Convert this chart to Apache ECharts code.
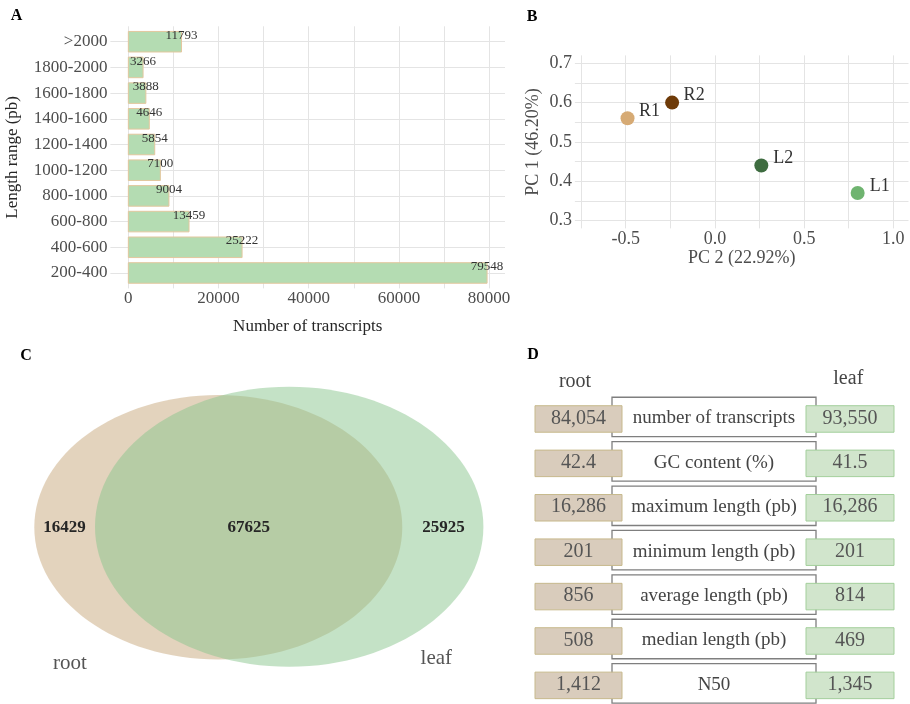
<!DOCTYPE html>
<html>
<head>
<meta charset="utf-8">
<style>
  html, body { margin: 0; padding: 0; background: #ffffff; }
  #chart { width: 910px; height: 704px; }
</style>
<script src="https://cdn.jsdelivr.net/npm/echarts@6.0.0/dist/echarts.min.js"></script>
</head>
<body>
<div id="chart"></div>
<script>
// ---------------- DATA ----------------
// Panel A
const lengthCategories = ['>2000', '1800-2000', '1600-1800', '1400-1600', '1200-1400', '1000-1200', '800-1000', '600-800', '400-600', '200-400'];
const transcriptCounts = [11793, 3266, 3888, 4646, 5854, 7100, 9004, 13459, 25222, 79548];
const countTicks = [0, 20000, 40000, 60000, 80000];
const countGrid = [0, 10000, 20000, 30000, 40000, 50000, 60000, 70000, 80000];

// Panel B
const sampleNames = ['R1', 'R2', 'L2', 'L1'];
const pc2Values = [-0.49, -0.24, 0.26, 0.80];
const pc1Values = [0.56, 0.60, 0.44, 0.37];
const sampleColors = ['#d6aa74', '#6e3a08', '#3e6c40', '#6fb470'];
const pc2Ticks = [-0.5, 0.0, 0.5, 1.0];
const pc2Grid = [-0.75, -0.5, -0.25, 0.0, 0.25, 0.5, 0.75, 1.0];
const pc1Ticks = [0.3, 0.4, 0.5, 0.6, 0.7];
const pc1Grid = [0.3, 0.35, 0.4, 0.45, 0.5, 0.55, 0.6, 0.65, 0.7];

// Panel C
const vennSets = ['root', 'leaf'];
const vennCounts = [16429, 67625, 25925]; // root only, shared, leaf only

// Panel D
const metricNames = ['number of transcripts', 'GC content (%)', 'maximum length (pb)', 'minimum length (pb)', 'average length (pb)', 'median length (pb)', 'N50'];
const rootValues = [84054, 42.4, 16286, 201, 856, 508, 1412];
const leafValues = [93550, 41.5, 16286, 201, 814, 469, 1345];

// ---------------- STYLE / LAYOUT ----------------
const SERIF = '"Liberation Serif", "Times New Roman", serif';
const gridColor = '#e4e4e4';
const tickColor = '#4d4d4d';
const titleColor = '#262626';

// Venn layout (axis units of the hidden Venn grid)
const vennShapes = [
  { cx: 218.3, cy: 187.2, rx: 184, ry: 132.2, color: '#c8a87c' },
  { cx: 289.2, cy: 186.7, rx: 194.2, ry: 140, color: '#89c58d' }
];
const vennCountPos = [[64.5, 187.5], [248.8, 187.5], [443.5, 187.5]];
const vennNamePos = [[70, 323], [436.3, 318]];

// Table layout (axis units of the hidden table grid)
const colRoot = [5, 92], colMid = [82, 286], colLeaf = [276, 364];
const boxOff = [-0.304, 0.293], midOff = [-0.495, 0.394];

function fmt(v) { return v.toLocaleString('en-US'); }

const chart = echarts.init(document.getElementById('chart'), null, { renderer: 'canvas' });

const option = {
  animation: false,
  backgroundColor: '#ffffff',
  textStyle: { fontFamily: SERIF },
  graphic: [
    { type: 'text', x: 16.5, y: 15.5, style: { text: 'A', align: 'center', verticalAlign: 'middle', font: 'bold 16px ' + SERIF, fill: '#000' } },
    { type: 'text', x: 532, y: 17, style: { text: 'B', align: 'center', verticalAlign: 'middle', font: 'bold 16px ' + SERIF, fill: '#000' } },
    { type: 'text', x: 26, y: 355.5, style: { text: 'C', align: 'center', verticalAlign: 'middle', font: 'bold 16px ' + SERIF, fill: '#000' } },
    { type: 'text', x: 533, y: 355, style: { text: 'D', align: 'center', verticalAlign: 'middle', font: 'bold 16px ' + SERIF, fill: '#000' } },
    { type: 'text', x: 575, y: 381.7, style: { text: vennSets[0], align: 'center', verticalAlign: 'middle', font: '20px ' + SERIF, fill: '#444' } },
    { type: 'text', x: 848.3, y: 378.3, style: { text: vennSets[1], align: 'center', verticalAlign: 'middle', font: '20px ' + SERIF, fill: '#444' } }
  ],
  grid: [
    { left: 110.4, top: 26.3, width: 394.6, height: 262.1 },
    { left: 574.9, top: 55.4, width: 333.6, height: 173 },
    { left: 0, top: 340, width: 500, height: 364 },
    { left: 530, top: 330.4, width: 380, height: 373 }
  ],
  xAxis: [
    {
      gridIndex: 0, type: 'value', min: -3977, max: 83525,
      axisLine: { show: false },
      axisTick: { show: false, customValues: countGrid },
      axisLabel: { customValues: countTicks, margin: 2, fontSize: 17, color: tickColor, fontFamily: SERIF, formatter: v => String(v) },
      splitLine: { show: true, lineStyle: { color: gridColor, width: 1 } },
      name: 'Number of transcripts', nameLocation: 'middle', nameGap: 30,
      nameTextStyle: { fontSize: 17, color: titleColor, fontFamily: SERIF }
    },
    {
      gridIndex: 1, type: 'value', min: -0.785, max: 1.085,
      axisLine: { show: false },
      axisTick: { show: false, customValues: pc2Grid },
      axisLabel: { customValues: pc2Ticks, margin: 2, fontSize: 18, color: tickColor, fontFamily: SERIF, formatter: v => v.toFixed(1) },
      splitLine: { show: true, lineStyle: { color: gridColor, width: 1 } },
      name: 'PC 2 (22.92%)', nameLocation: 'middle', nameGap: 21,
      nameTextStyle: { fontSize: 18, color: tickColor, fontFamily: SERIF }
    },
    { gridIndex: 2, type: 'value', min: 0, max: 500, show: false },
    { gridIndex: 3, type: 'value', min: 0, max: 380, show: false }
  ],
  yAxis: [
    {
      gridIndex: 0, type: 'value', min: -0.6, max: 9.6, inverse: true,
      axisLine: { show: false },
      axisTick: { show: false, customValues: lengthCategories.map((c, i) => i) },
      axisLabel: { customValues: lengthCategories.map((c, i) => i), margin: 3, fontSize: 17, color: tickColor, fontFamily: SERIF, formatter: v => lengthCategories[Math.round(v)] },
      splitLine: { show: true, lineStyle: { color: gridColor, width: 1 } },
      name: 'Length range (pb)', nameLocation: 'middle', nameGap: 89,
      nameTextStyle: { fontSize: 17, color: titleColor, fontFamily: SERIF }
    },
    {
      gridIndex: 1, type: 'value', min: 0.28, max: 0.72,
      axisLine: { show: false },
      axisTick: { show: false, customValues: pc1Grid },
      axisLabel: { customValues: pc1Ticks, margin: 3, fontSize: 18, color: tickColor, fontFamily: SERIF, formatter: v => v.toFixed(1) },
      splitLine: { show: true, lineStyle: { color: gridColor, width: 1 } },
      name: 'PC 1 (46.20%)', nameLocation: 'middle', nameGap: 33,
      nameTextStyle: { fontSize: 18, color: tickColor, fontFamily: SERIF }
    },
    { gridIndex: 2, type: 'value', min: 0, max: 364, inverse: true, show: false },
    { gridIndex: 3, type: 'value', min: -2, max: 6.4, inverse: true, show: false }
  ],
  series: [
    // Panel A bars
    {
      type: 'custom', xAxisIndex: 0, yAxisIndex: 0, clip: false,
      data: transcriptCounts.map((v, i) => [v, i]),
      renderItem: function (params, api) {
        const v = api.value(0), i = api.value(1);
        const s = api.coord([0, i]);
        const e = api.coord([v, i]);
        const h = api.size([0, 0.8])[1];
        return {
          type: 'group',
          children: [
            { type: 'rect', shape: { x: s[0], y: s[1] - h / 2, width: e[0] - s[0], height: h },
              style: { fill: '#b4dcb2', stroke: '#e3c79e', lineWidth: 1 } },
            { type: 'text', style: { x: e[0], y: e[1] - 6.3, text: String(v), align: 'center', verticalAlign: 'middle',
              font: '13px ' + SERIF, fill: '#333' } }
          ]
        };
      }
    },
    // Panel B PCA scatter
    {
      type: 'scatter', xAxisIndex: 1, yAxisIndex: 1, symbolSize: 14,
      data: sampleNames.map((n, i) => ({ name: n, value: [pc2Values[i], pc1Values[i]], itemStyle: { color: sampleColors[i], opacity: 1 } })),
      label: { show: true, position: 'inside', offset: [22, -7], formatter: p => p.name, fontSize: 18, color: '#333', fontFamily: SERIF }
    },
    // Panel C Venn ellipses
    {
      type: 'custom', xAxisIndex: 2, yAxisIndex: 2, clip: false,
      data: vennSets.map((s, i) => [i]),
      renderItem: function (params, api) {
        const sh = vennShapes[params.dataIndex];
        const c = api.coord([sh.cx, sh.cy]);
        const sz = api.size([sh.rx, sh.ry]);
        return { type: 'ellipse', shape: { cx: c[0], cy: c[1], rx: sz[0], ry: sz[1] },
          style: { fill: sh.color, opacity: 0.5 } };
      }
    },
    // Panel C Venn texts
    {
      type: 'custom', xAxisIndex: 2, yAxisIndex: 2, clip: false,
      data: vennCounts.map((v, i) => [i]),
      renderItem: function (params, api) {
        const i = params.dataIndex;
        const p = api.coord(vennCountPos[i]);
        const children = [
          { type: 'text', style: { x: p[0], y: p[1], text: String(vennCounts[i]), align: 'center', verticalAlign: 'middle',
            font: 'bold 17px ' + SERIF, fill: '#262626' } }
        ];
        if (i < vennSets.length) {
          const q = api.coord(vennNamePos[i]);
          children.push({ type: 'text', style: { x: q[0], y: q[1], text: vennSets[i], align: 'center', verticalAlign: 'middle',
            font: '21px ' + SERIF, fill: '#555' } });
        }
        return { type: 'group', children };
      }
    },
    // Panel D table
    {
      type: 'custom', xAxisIndex: 3, yAxisIndex: 3, clip: false,
      data: metricNames.map((m, i) => [i]),
      renderItem: function (params, api) {
        const i = params.dataIndex;
        const row = api.value(0);
        const X = u => api.coord([u, row])[0];
        const Y = o => api.coord([0, row + o])[1];
        const cy = Y(-0.02);
        const rect = (col, off, fill, stroke, lw) => ({
          type: 'rect',
          shape: { x: X(col[0]), y: Y(off[0]), width: X(col[1]) - X(col[0]), height: Y(off[1]) - Y(off[0]) },
          style: { fill: fill, stroke: stroke, lineWidth: lw }
        });
        const txt = (col, s, size, color) => ({
          type: 'text',
          style: { x: (X(col[0]) + X(col[1])) / 2, y: cy, text: s, align: 'center', verticalAlign: 'middle',
            font: size + 'px ' + SERIF, fill: color }
        });
        return {
          type: 'group',
          children: [
            rect(colMid, midOff, '#ffffff', '#7f7f7f', 1.3),
            rect(colRoot, boxOff, '#d9ccbc', '#c7b98c', 1),
            rect(colLeaf, boxOff, '#d1e5cc', '#a3cf9b', 1),
            txt(colRoot, fmt(rootValues[i]), 20, '#555'),
            txt(colMid, metricNames[i], 19, '#444'),
            txt(colLeaf, fmt(leafValues[i]), 20, '#555')
          ]
        };
      }
    }
  ]
};

chart.setOption(option);
</script>
</body>
</html>
